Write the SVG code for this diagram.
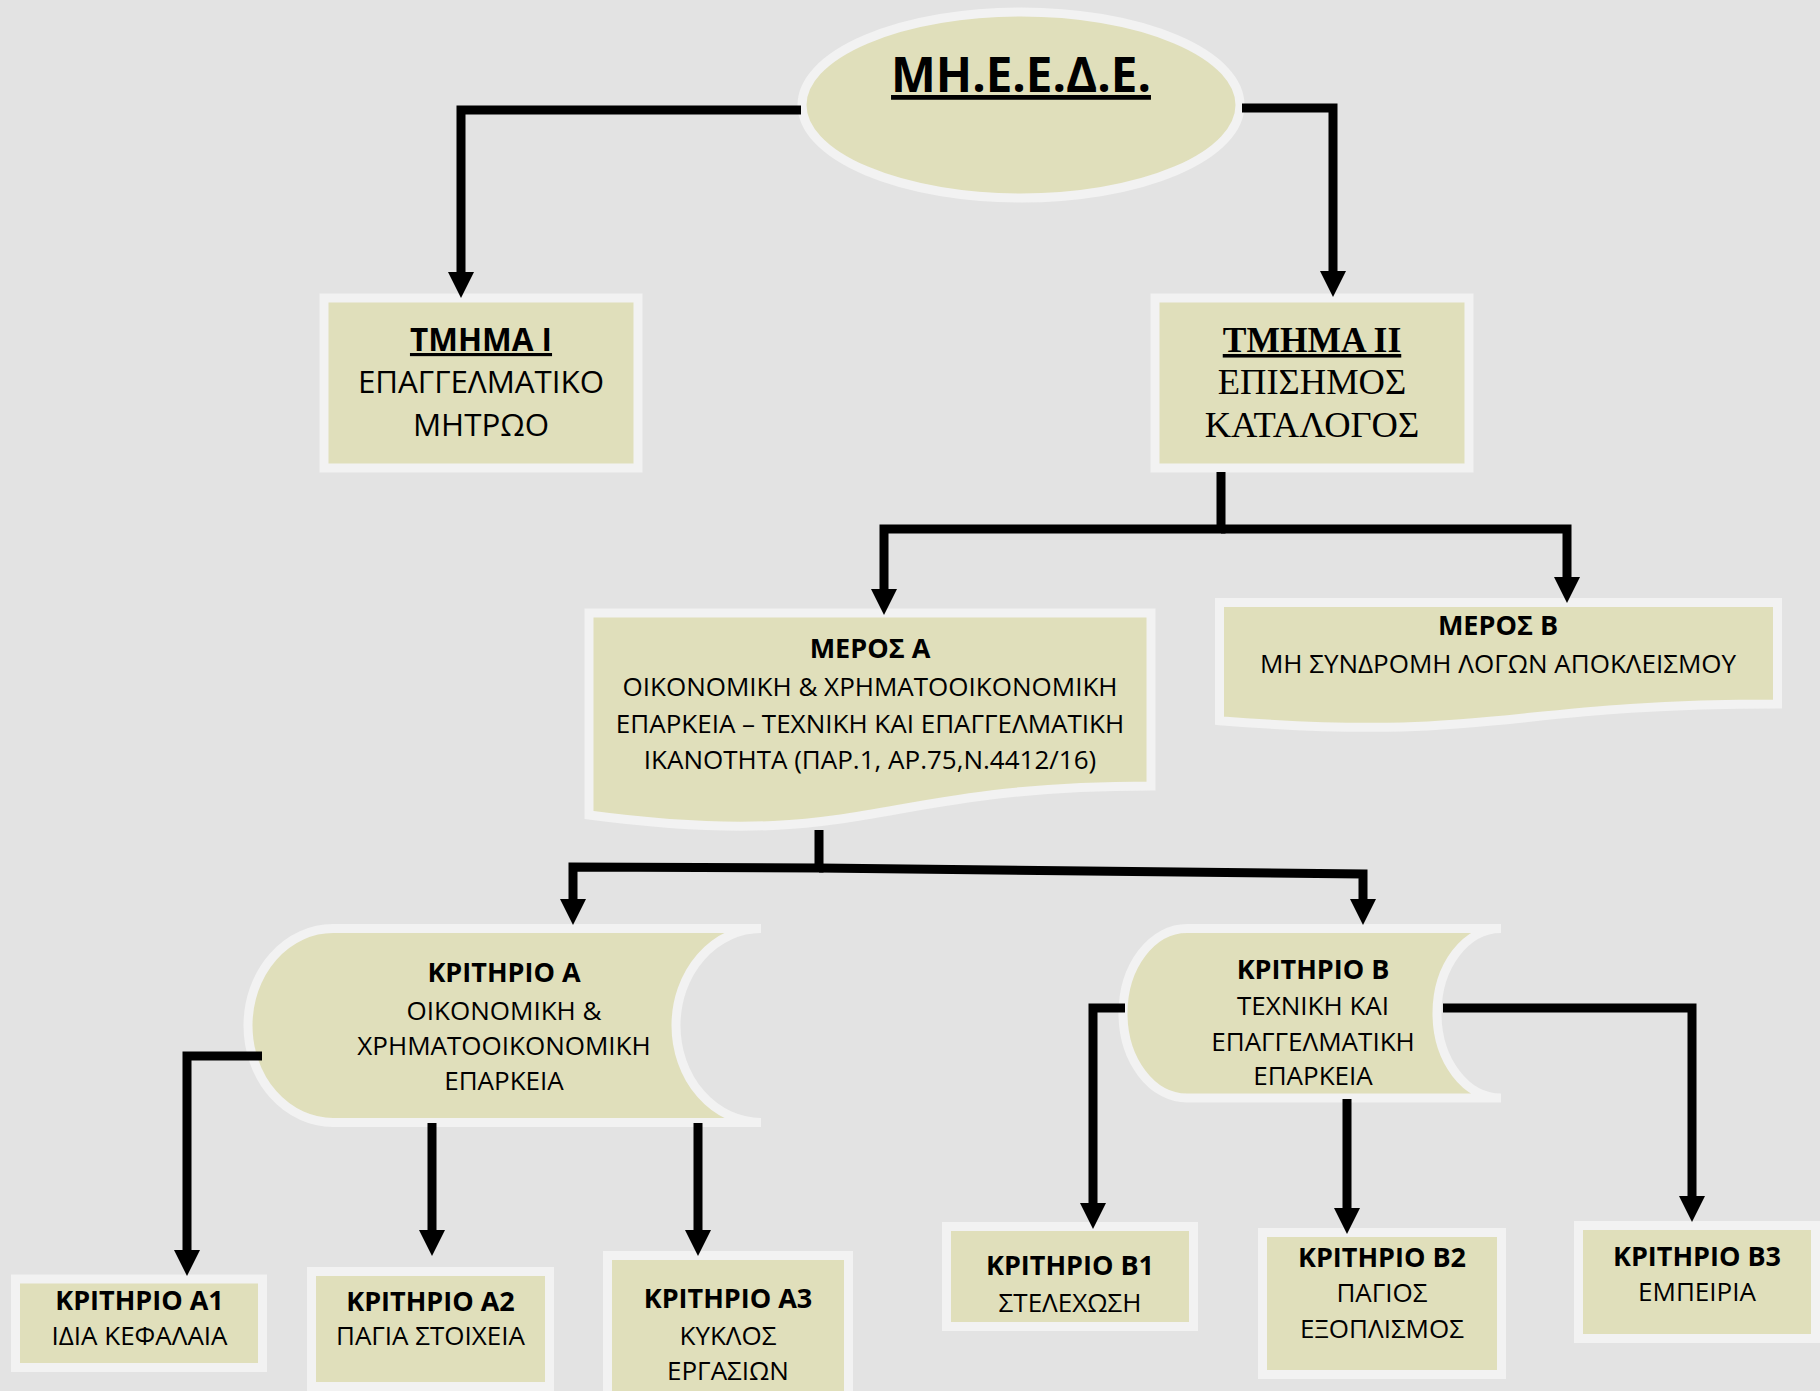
<svg xmlns="http://www.w3.org/2000/svg" width="1820" height="1391" viewBox="0 0 1820 1391">
<style>
.bg{fill:#e3e3e3}
.node{fill:#e0dfbb;stroke:#f2f2f2;stroke-width:9}
.t{font-family:'Open Sans','Noto Sans',sans-serif;font-size:26px;fill:#000;text-anchor:middle}
.b{font-weight:bold;font-size:27px}
.u{text-decoration:underline;text-decoration-thickness:3px}
.serif{font-family:'Liberation Serif','Times New Roman',serif;font-size:36.5px}
.conn{fill:none;stroke:#000;stroke-width:9;stroke-linejoin:miter}
</style>
<defs>
<marker id="arr" markerUnits="userSpaceOnUse" markerWidth="26" markerHeight="26" viewBox="0 0 26 26" refX="0" refY="13" orient="auto">
<path d="M0,0 L26,13 L0,26 Z" fill="#000"/>
</marker>
</defs>
<rect class="bg" x="0" y="0" width="1820" height="1391"/>

<g id="root">
<ellipse class="node" cx="1021" cy="105" rx="219" ry="93"/>
<text class="t b u" x="1021" y="92" style="font-size:47.5px;text-decoration-thickness:4px">ΜΗ.Ε.Ε.Δ.Ε.</text>
</g>

<g id="tmima1">
<rect class="node" x="324" y="298" width="314" height="170"/>
<text class="t b u" x="481" y="351" style="font-size:31.5px">ΤΜΗΜΑ Ι</text>
<text class="t" x="481" y="393" style="font-size:31.3px">ΕΠΑΓΓΕΛΜΑΤΙΚΟ</text>
<text class="t" x="481" y="436" style="font-size:31.3px">ΜΗΤΡΩΟ</text>
</g>

<g id="tmima2">
<rect class="node" x="1155" y="298" width="314" height="170"/>
<text class="t serif b u" x="1312" y="352" style="font-size:35.5px">ΤΜΗΜΑ ΙΙ</text>
<text class="t serif" x="1312" y="394">ΕΠΙΣΗΜΟΣ</text>
<text class="t serif" x="1312" y="437">ΚΑΤΑΛΟΓΟΣ</text>
</g>

<g id="meros-a">
<path class="node" d="M589,613 H1151 V786 C870,786 870,852 589,815 Z"/>
<text class="t b" x="870" y="658">ΜΕΡΟΣ Α</text>
<text class="t" x="870" y="695.5">ΟΙΚΟΝΟΜΙΚΗ &amp; ΧΡΗΜΑΤΟΟΙΚΟΝΟΜΙΚΗ</text>
<text class="t" x="870" y="732.5">ΕΠΑΡΚΕΙΑ – ΤΕΧΝΙΚΗ ΚΑΙ ΕΠΑΓΓΕΛΜΑΤΙΚΗ</text>
<text class="t" x="870" y="769">ΙΚΑΝΟΤΗΤΑ (ΠΑΡ.1, ΑΡ.75,Ν.4412/16)</text>
</g>

<g id="meros-b">
<path class="node" d="M1219.5,602.5 H1777.5 V704 C1498.5,704 1498.5,742.5 1219.5,720.7 Z"/>
<text class="t b" x="1498" y="635">ΜΕΡΟΣ Β</text>
<text class="t" x="1498" y="673">ΜΗ ΣΥΝΔΡΟΜΗ ΛΟΓΩΝ ΑΠΟΚΛΕΙΣΜΟΥ</text>
</g>

<g id="kritirio-a">
<path class="node" d="M333,928.5 H761 A85,97 0 0 0 761,1122.5 H333 A85,97 0 0 1 333,928.5 Z"/>
<text class="t b" x="504" y="982">ΚΡΙΤΗΡΙΟ Α</text>
<text class="t" x="504" y="1020">ΟΙΚΟΝΟΜΙΚΗ &amp;</text>
<text class="t" x="504" y="1055">ΧΡΗΜΑΤΟΟΙΚΟΝΟΜΙΚΗ</text>
<text class="t" x="504" y="1090">ΕΠΑΡΚΕΙΑ</text>
</g>

<g id="kritirio-b">
<path class="node" d="M1187,928.5 H1501 A64,84.75 0 0 0 1501,1098 H1187 A64,84.75 0 0 1 1187,928.5 Z"/>
<text class="t b" x="1313" y="979">ΚΡΙΤΗΡΙΟ Β</text>
<text class="t" x="1313" y="1015">ΤΕΧΝΙΚΗ ΚΑΙ</text>
<text class="t" x="1313" y="1051">ΕΠΑΓΓΕΛΜΑΤΙΚΗ</text>
<text class="t" x="1313" y="1085">ΕΠΑΡΚΕΙΑ</text>
</g>

<g id="kritirio-a1">
<rect class="node" x="15.5" y="1279" width="247" height="88.5"/>
<text class="t b" x="139.5" y="1310">ΚΡΙΤΗΡΙΟ Α1</text>
<text class="t" x="139.5" y="1345">ΙΔΙΑ ΚΕΦΑΛΑΙΑ</text>
</g>

<g id="kritirio-a2">
<rect class="node" x="311.5" y="1271.5" width="238" height="115"/>
<text class="t b" x="430.5" y="1311">ΚΡΙΤΗΡΙΟ Α2</text>
<text class="t" x="430.5" y="1345">ΠΑΓΙΑ ΣΤΟΙΧΕΙΑ</text>
</g>

<g id="kritirio-a3">
<rect class="node" x="607.5" y="1255.5" width="241" height="150"/>
<text class="t b" x="728" y="1308">ΚΡΙΤΗΡΙΟ Α3</text>
<text class="t" x="728" y="1345">ΚΥΚΛΟΣ</text>
<text class="t" x="728" y="1380">ΕΡΓΑΣΙΩΝ</text>
</g>

<g id="kritirio-b1">
<rect class="node" x="946.5" y="1226.5" width="247" height="100"/>
<text class="t b" x="1070" y="1275">ΚΡΙΤΗΡΙΟ Β1</text>
<text class="t" x="1070" y="1312">ΣΤΕΛΕΧΩΣΗ</text>
</g>

<g id="kritirio-b2">
<rect class="node" x="1262.5" y="1232.5" width="239" height="142"/>
<text class="t b" x="1382" y="1267">ΚΡΙΤΗΡΙΟ Β2</text>
<text class="t" x="1382" y="1302">ΠΑΓΙΟΣ</text>
<text class="t" x="1382" y="1338">ΕΞΟΠΛΙΣΜΟΣ</text>
</g>

<g id="kritirio-b3">
<rect class="node" x="1578.5" y="1225.5" width="237" height="113"/>
<text class="t b" x="1697" y="1266">ΚΡΙΤΗΡΙΟ Β3</text>
<text class="t" x="1697" y="1301">ΕΜΠΕΙΡΙΑ</text>
</g>

<g id="connectors">
<path class="conn" d="M801,110 H461 V272" marker-end="url(#arr)"/>
<path class="conn" d="M1242,108 H1333 V271" marker-end="url(#arr)"/>
<path class="conn" d="M1221,472 V529 H884 V589" marker-end="url(#arr)"/>
<path class="conn" d="M1221,529 H1567 V577" marker-end="url(#arr)"/>
<path class="conn" d="M819,830 V868 L573,867 V899" marker-end="url(#arr)"/>
<path class="conn" d="M819,868 L1363,874 V899" marker-end="url(#arr)"/>
<path class="conn" d="M262,1056 H187 V1250" marker-end="url(#arr)"/>
<path class="conn" d="M432,1123 V1230" marker-end="url(#arr)"/>
<path class="conn" d="M698,1123 V1230" marker-end="url(#arr)"/>
<path class="conn" d="M1125,1008 H1093 V1203" marker-end="url(#arr)"/>
<path class="conn" d="M1347,1099 V1208" marker-end="url(#arr)"/>
<path class="conn" d="M1443,1008 H1692 V1196" marker-end="url(#arr)"/>
</g>
</svg>
